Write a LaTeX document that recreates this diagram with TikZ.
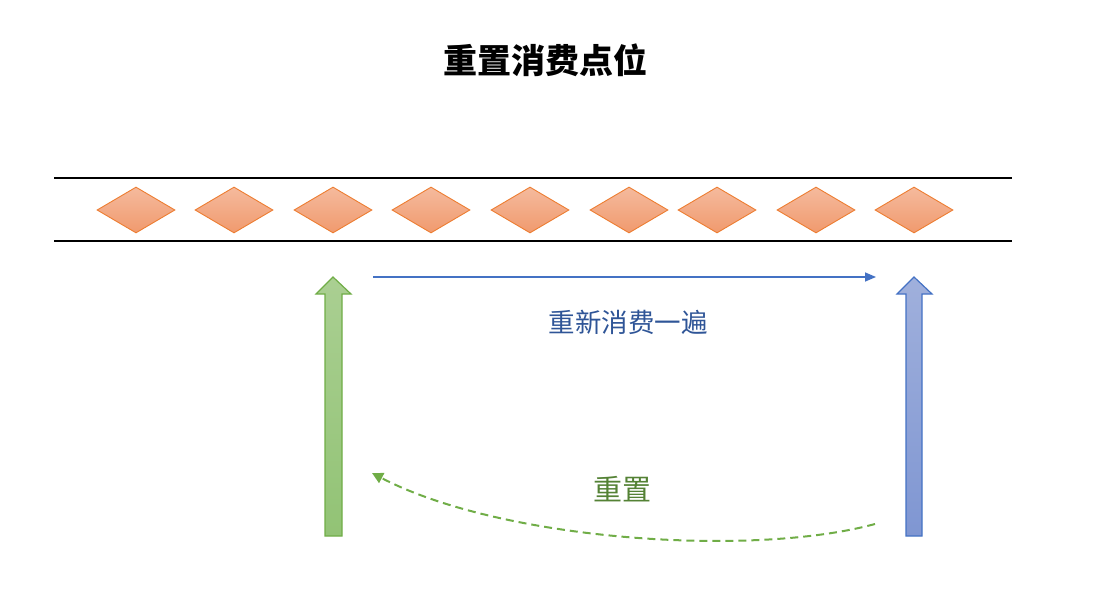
\documentclass[tikz,border=0pt]{standalone}
\usepackage{fontspec}
\setmainfont{Noto Sans CJK SC}
\usetikzlibrary{shapes.geometric,arrows.meta}
\definecolor{orangeline}{HTML}{ED7D31}
\definecolor{orangetop}{HTML}{F5BA9D}
\definecolor{orangebot}{HTML}{F09A6E}
\definecolor{greenline}{HTML}{70AD47}
\definecolor{greentop}{HTML}{AACF92}
\definecolor{greenbot}{HTML}{92C375}
\definecolor{blueline}{HTML}{4472C4}
\definecolor{bluetop}{HTML}{A0B0DC}
\definecolor{bluebot}{HTML}{7F96D2}
\definecolor{bluetext}{HTML}{2F5597}
\definecolor{greentext}{HTML}{548235}
\tikzset{
  gem/.style={diamond, draw=orangeline, line width=0.9pt, top color=orangetop, bottom color=orangebot,
    minimum width=78pt, minimum height=46pt, inner sep=0pt},
  rail/.style={line width=1.8pt, black},
  greenblock/.style={draw=greenline, line width=1.2pt, top color=greentop, bottom color=greenbot},
  blueblock/.style={draw=blueline, line width=1.2pt, top color=bluetop, bottom color=bluebot},
  flow/.style={blueline, line width=1.5pt, -{Triangle[length=11pt,width=9pt]}},
  resetflow/.style={greenline, line width=2pt, dash pattern=on 8pt off 5pt, -{Triangle[length=11pt,width=11pt]}}
}
\begin{document}
\begin{tikzpicture}[x=1pt,y=-1pt]
\useasboundingbox (0,0) rectangle (1114,596);
\node[font=\bfseries\fontsize{34}{38}\selectfont] (title) at (545,60) {重置消费点位};
% rails
\coordinate (r1a) at (54,178); \coordinate (r1b) at (1012,178);
\coordinate (r2a) at (54,241); \coordinate (r2b) at (1012,241);
\draw[rail] (r1a) -- (r1b);
\draw[rail] (r2a) -- (r2b);
% diamonds
\foreach \x [count=\i] in {136,234,333,431,530,629,717,816,914}
  \node[gem] (d\i) at (\x,210) {};
% green block arrow
\draw[greenblock] (325,536) -- (325,294) -- (316,294) -- (333,277) -- (351,294) -- (342,294) -- (342,536) -- cycle;
\coordinate (gtip) at (333,277);
% blue block arrow
\draw[blueblock] (906,536) -- (906,294) -- (897,294) -- (914,277) -- (932,294) -- (922,294) -- (922,536) -- cycle;
\coordinate (btip) at (914,277);
% blue line arrow
\coordinate (fa) at (373,277); \coordinate (fb) at (876,277);
\draw[flow] (fa) -- (fb);
\node[text=bluetext, font=\fontsize{26.5}{31}\selectfont] (again) at (628,322) {重新消费一遍};
% dashed reset curve
\coordinate (ra) at (875,524); \coordinate (rb) at (372,473);
\draw[resetflow] (ra) .. controls (750,558) and (500,540) .. (rb);
\node[text=greentext, font=\fontsize{29}{34}\selectfont] (reset) at (622,489) {重置};
\end{tikzpicture}
\end{document}
